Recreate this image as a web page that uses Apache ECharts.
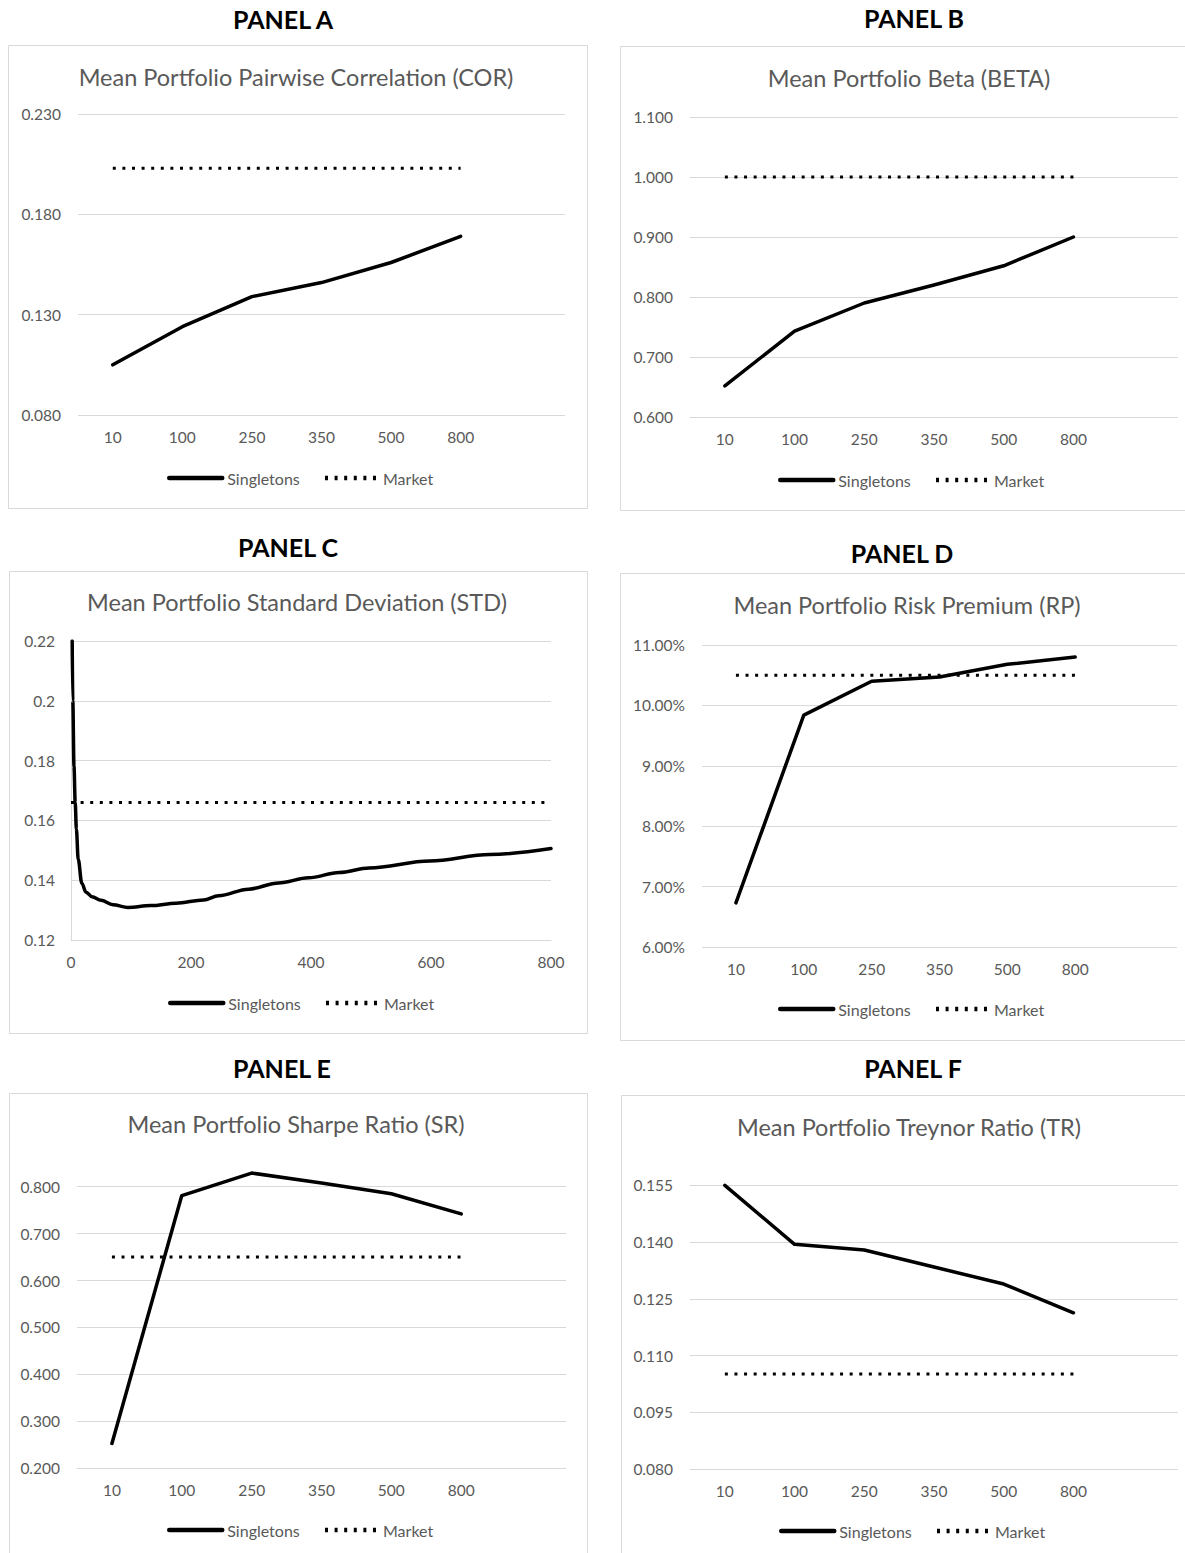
<!DOCTYPE html>
<html>
<head>
<meta charset="utf-8">
<script src="https://cdn.jsdelivr.net/npm/echarts@6/dist/echarts.min.js"></script>
<style>
html,body{margin:0;padding:0;background:#fff;}
#c{width:1185px;height:1553px;}
</style>
</head>
<body>
<div id="c"></div>
<script>
// ---------- DATA ----------
const categories = ['10', '100', '250', '350', '500', '800', ''];

const corSingletons = [0.105, 0.124, 0.139, 0.146, 0.156, 0.169];
const corMarket     = [0.203, 0.203, 0.203, 0.203, 0.203, 0.203];

const betaSingletons = [0.652, 0.743, 0.790, 0.820, 0.852, 0.900];
const betaMarket     = [1.000, 1.000, 1.000, 1.000, 1.000, 1.000];

const stdSingletons = [
  [2, 0.220], [3, 0.200], [5, 0.178], [7, 0.166], [9, 0.157], [12, 0.147],
  [18, 0.139], [25, 0.136], [35, 0.1345], [50, 0.1333], [70, 0.1318], [95, 0.1309],
  [133, 0.1315], [175, 0.1323], [221, 0.1334], [246, 0.1348], [296, 0.137],
  [346, 0.1391], [396, 0.1408], [447, 0.1426], [497, 0.1441], [598, 0.1464],
  [698, 0.1486], [800, 0.1506]
];
const stdMarket = [[0, 0.166], [800, 0.166]];

const rpSingletons = [0.0673, 0.0984, 0.1040, 0.1047, 0.1068, 0.1080];
const rpMarket     = [0.105, 0.105, 0.105, 0.105, 0.105, 0.105];

const srSingletons = [0.253, 0.781, 0.829, 0.808, 0.785, 0.742];
const srMarket     = [0.650, 0.650, 0.650, 0.650, 0.650, 0.650];

const trSingletons = [0.155, 0.1394, 0.1379, 0.1334, 0.1289, 0.1213];
const trMarket     = [0.1051, 0.1051, 0.1051, 0.1051, 0.1051, 0.1051];

const panelHeadings = ['PANEL A', 'PANEL B', 'PANEL C', 'PANEL D', 'PANEL E', 'PANEL F'];
const chartTitles = [
  'Mean Portfolio Pairwise Correlation (COR)',
  'Mean Portfolio Beta (BETA)',
  'Mean Portfolio Standard Deviation (STD)',
  'Mean Portfolio Risk Premium (RP)',
  'Mean Portfolio Sharpe Ratio (SR)',
  'Mean Portfolio Treynor Ratio (TR)'
];
const seriesNames = ['Singletons', 'Market'];

// ---------- LAYOUT / STYLE ----------
const FONT = 'Lato, "Open Sans", sans-serif';
const GRAY = '#595959';
const GRID_COLOR = '#d9d9d9';

const boxes = [
  {x: 8, y: 45, w: 579, h: 463},
  {x: 620, y: 46, w: 570, h: 464},
  {x: 9, y: 571, w: 578, h: 462},
  {x: 620, y: 573, w: 570, h: 467},
  {x: 9, y: 1093, w: 578, h: 470},
  {x: 621, y: 1095, w: 570, h: 470}
];
const headingPos = [[283, 19], [914, 18], [288, 547], [902, 553], [282, 1068], [913, 1068]];
const titlePos = [[296, 77], [909, 78], [297, 602], [907, 605], [296, 1124], [909, 1127]];
const legendPos = [[167, 478], [778, 480], [168, 1003], [778, 1009], [167, 1530], [779, 1531]];

const grids = [
  {left: 78, top: 114, width: 487, height: 301},
  {left: 690, top: 117, width: 488, height: 300},
  {left: 71, top: 641, width: 480, height: 299},
  {left: 702, top: 645, width: 475, height: 302},
  {left: 77, top: 1163.2, width: 489, height: 305.1},
  {left: 690, top: 1147.5, width: 488, height: 321.5}
];

const labelStyle = {color: GRAY, fontSize: 15.5, fontFamily: FONT};
const splitLine = {show: true, lineStyle: {color: GRID_COLOR, width: 1}};

function catX(i) {
  return {
    type: 'category', gridIndex: i, data: categories, boundaryGap: true,
    axisLine: {show: false}, axisTick: {show: false},
    axisLabel: Object.assign({margin: 14, interval: 0}, labelStyle),
    splitLine: {show: false}
  };
}
function valY(i, min, max, interval, fmt, extra) {
  return Object.assign({
    type: 'value', gridIndex: i, min: min, max: max, interval: interval,
    axisLine: {show: false}, axisTick: {show: false},
    axisLabel: Object.assign({margin: 17, formatter: fmt}, labelStyle),
    splitLine: JSON.parse(JSON.stringify(splitLine))
  }, extra || {});
}
const f3 = v => v.toFixed(3);

const xAxes = [
  catX(0), catX(1),
  {
    type: 'value', gridIndex: 2, min: 0, max: 800, interval: 200,
    axisLine: {show: true, lineStyle: {color: GRID_COLOR, width: 1}},
    axisTick: {show: false},
    axisLabel: Object.assign({margin: 14}, labelStyle),
    splitLine: {show: false}
  },
  catX(3), catX(4), catX(5)
];

const yAxes = [
  valY(0, 0.08, 0.23, 0.05, f3),
  valY(1, 0.6, 1.1, 0.1, f3),
  valY(2, 0.12, 0.22, 0.02, v => String(+v.toFixed(2)),
       {axisLine: {show: true, lineStyle: {color: GRID_COLOR, width: 1}}, axisLabel: Object.assign({margin: 16, formatter: v => String(+v.toFixed(2))}, labelStyle)}),
  valY(3, 0.06, 0.11, 0.01, v => (v * 100).toFixed(2) + '%'),
  valY(4, 0.2, 0.85, 0.1, f3),
  valY(5, 0.08, 0.165, 0.015, f3)
];
yAxes[4].axisLabel.showMaxLabel = false;
yAxes[4].splitLine.showMaxLine = false;
yAxes[5].axisLabel.showMaxLabel = false;
yAxes[5].splitLine.showMaxLine = false;

const solid = {color: '#000', width: 3.5, type: 'solid', cap: 'round', join: 'round'};
const dotted = {color: '#000', width: 3, type: [3, 6.6], cap: 'butt'};

function mk(name, idx, data, style, smooth) {
  return {
    name: name, type: 'line', xAxisIndex: idx, yAxisIndex: idx, data: data,
    symbol: 'none', showSymbol: false, smooth: smooth || false,
    lineStyle: style, itemStyle: {color: '#000'},
    emphasis: {disabled: true}, silent: true, z: name === 'Market' ? 3 : 4
  };
}

const series = [
  mk('Singletons', 0, corSingletons, solid), mk('Market', 0, corMarket, dotted),
  mk('Singletons', 1, betaSingletons, solid), mk('Market', 1, betaMarket, dotted),
  mk('Singletons', 2, stdSingletons, solid, 0.35), mk('Market', 2, stdMarket, dotted),
  mk('Singletons', 3, rpSingletons, solid), mk('Market', 3, rpMarket, dotted),
  mk('Singletons', 4, srSingletons, solid), mk('Market', 4, srMarket, dotted),
  mk('Singletons', 5, trSingletons, solid), mk('Market', 5, trMarket, dotted)
];
series[4].smoothMonotone = 'x';

const legends = legendPos.map(p => ({
  data: seriesNames, left: p[0], top: p[1] - 8, padding: 0,
  itemWidth: 53, itemHeight: 16, itemGap: 23, selectedMode: false,
  itemStyle: {opacity: 0},
  lineStyle: {width: 4.5},
  textStyle: {color: GRAY, fontSize: 16, fontFamily: FONT}
}));

const graphics = [];
boxes.forEach(b => graphics.push({
  type: 'rect', z: -10, silent: true,
  shape: {x: b.x + 0.5, y: b.y + 0.5, width: b.w, height: b.h},
  style: {fill: '#fff', stroke: GRID_COLOR, lineWidth: 1}
}));
panelHeadings.forEach((t, i) => graphics.push({
  type: 'text', silent: true, x: headingPos[i][0], y: headingPos[i][1],
  style: {text: t, fill: '#000', font: 'bold 25px ' + FONT, align: 'center', verticalAlign: 'middle'}
}));
chartTitles.forEach((t, i) => graphics.push({
  type: 'text', silent: true, x: titlePos[i][0], y: titlePos[i][1],
  style: {text: t, fill: GRAY, font: '23.5px ' + FONT, align: 'center', verticalAlign: 'middle'}
}));

const chart = echarts.init(document.getElementById('c'), null, {renderer: 'svg', width: 1185, height: 1553});
chart.setOption({
  backgroundColor: '#fff',
  animation: false,
  grid: grids.map(g => Object.assign({containLabel: false}, g)),
  xAxis: xAxes,
  yAxis: yAxes,
  legend: legends,
  series: series,
  graphic: {elements: graphics}
});
</script>
</body>
</html>
